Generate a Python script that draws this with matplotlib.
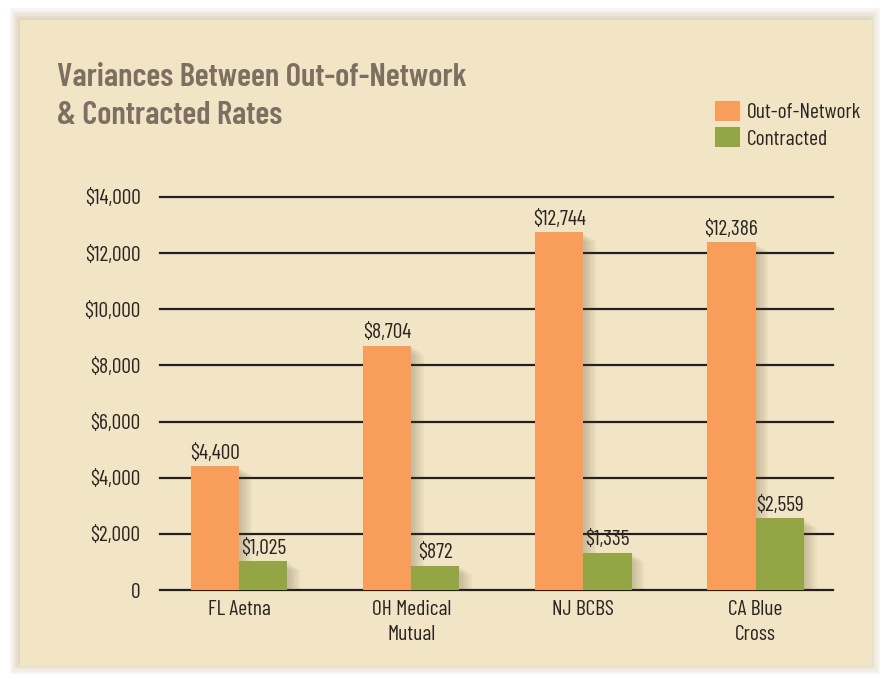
import matplotlib
matplotlib.use("Agg")
import matplotlib.pyplot as plt
from matplotlib.patches import FancyBboxPatch
import numpy as np

plt.rcParams['font.family'] = ['Barlow Condensed', 'DejaVu Sans']

categories = ["FL Aetna", "OH Medical\nMutual", "NJ BCBS", "CA Blue\nCross"]
out_of_network = [4400, 8704, 12744, 12386]
contracted = [1025, 872, 1335, 2559]
out_labels = ["$4,400", "$8,704", "$12,744", "$12,386"]
con_labels = ["$1,025", "$872", "$1,335", "$2,559"]
yticks = [0, 2000, 4000, 6000, 8000, 10000, 12000, 14000]
ytick_labels = ["0", "$2,000", "$4,000", "$6,000", "$8,000", "$10,000", "$12,000", "$14,000"]

ORANGE = "#F99D5A"
GREEN = "#94A545"
BG = "#F2E5C6"
TEXT = "#2A2522"
TITLE = "#7D7062"
FS = 15.5

W, H = 889, 681
fig = plt.figure(figsize=(W / 100, H / 100), dpi=100)
fig.patch.set_facecolor("white")

# beige panel with soft darker edge
bg_ax = fig.add_axes([0, 0, 1, 1])
bg_ax.set_xlim(0, W)
bg_ax.set_ylim(H, 0)
bg_ax.axis("off")
for i, a in enumerate([0.12, 0.12, 0.14, 0.16, 0.18]):
    bg_ax.add_patch(FancyBboxPatch((10 + i * 2, 8 + i * 2.5), 870 - i * 4.5, 666 - i * 5,
                                   boxstyle="square,pad=0", facecolor="#C9BA93",
                                   edgecolor="none", alpha=a))
bg_ax.add_patch(FancyBboxPatch((20, 20), 852, 646, boxstyle="square,pad=0",
                               facecolor=BG, edgecolor="none"))

fig.text(57 / W, 1 - 77 / H, "Variances Between Out-of-Network", color=TITLE,
         fontsize=23.5, fontweight="semibold", va="center", ha="left")
fig.text(57 / W, 1 - 115 / H, "& Contracted Rates", color=TITLE,
         fontsize=23.5, fontweight="semibold", va="center", ha="left")

ax = fig.add_axes([160 / W, (H - 590) / H, (833 - 160) / W, (590 - 197) / H])
ax.set_facecolor("none")
x = np.arange(len(categories))
bw = 0.28
px = 1 / 172.0

ax.set_xlim(-0.46, 3.45)
ax.set_ylim(0, 14000)

# drop shadows
for vals, off in [(out_of_network, -bw / 2), (contracted, bw / 2)]:
    for k in range(1, 9):
        ax.bar(x + off + k * 1.6 * px, np.array(vals) - k * 40, bw,
               color="#5E4E30", alpha=0.035, zorder=2, linewidth=0)

ax.bar(x - bw / 2, out_of_network, bw, color=ORANGE, zorder=3, label="Out-of-Network")
ax.bar(x + bw / 2, contracted, bw, color=GREEN, zorder=3, label="Contracted")

for xi, v, s in zip(x, out_of_network, out_labels):
    ax.text(xi - bw / 2, v + 120, s, ha="center", va="bottom", fontsize=FS, color=TEXT, zorder=4)
for xi, v, s in zip(x, contracted, con_labels):
    ax.text(xi + bw / 2, v + 120, s, ha="center", va="bottom", fontsize=FS, color=TEXT, zorder=4)

for yv in yticks:
    ax.axhline(yv, color="#231F20", linewidth=1.6, zorder=1, clip_on=False)

ax.set_yticks(yticks)
ax.set_yticklabels(ytick_labels, fontsize=FS, color=TEXT)
ax.set_xticks(x)
ax.set_xticklabels(categories, fontsize=FS, color=TEXT, linespacing=1.45)
ax.tick_params(axis="both", length=0)
ax.tick_params(axis="y", pad=14)
ax.tick_params(axis="x", pad=7)
for sp in ax.spines.values():
    sp.set_visible(False)

leg = fig.legend(loc="upper left", bbox_to_anchor=(706 / W, 1 - 92 / H), frameon=False,
                 fontsize=FS, handlelength=1.2, handleheight=1.05, handletextpad=0.3,
                 labelspacing=0.25, borderaxespad=0)
for t in leg.get_texts():
    t.set_color(TEXT)

fig.savefig("out.png", dpi=100, facecolor=fig.get_facecolor())
